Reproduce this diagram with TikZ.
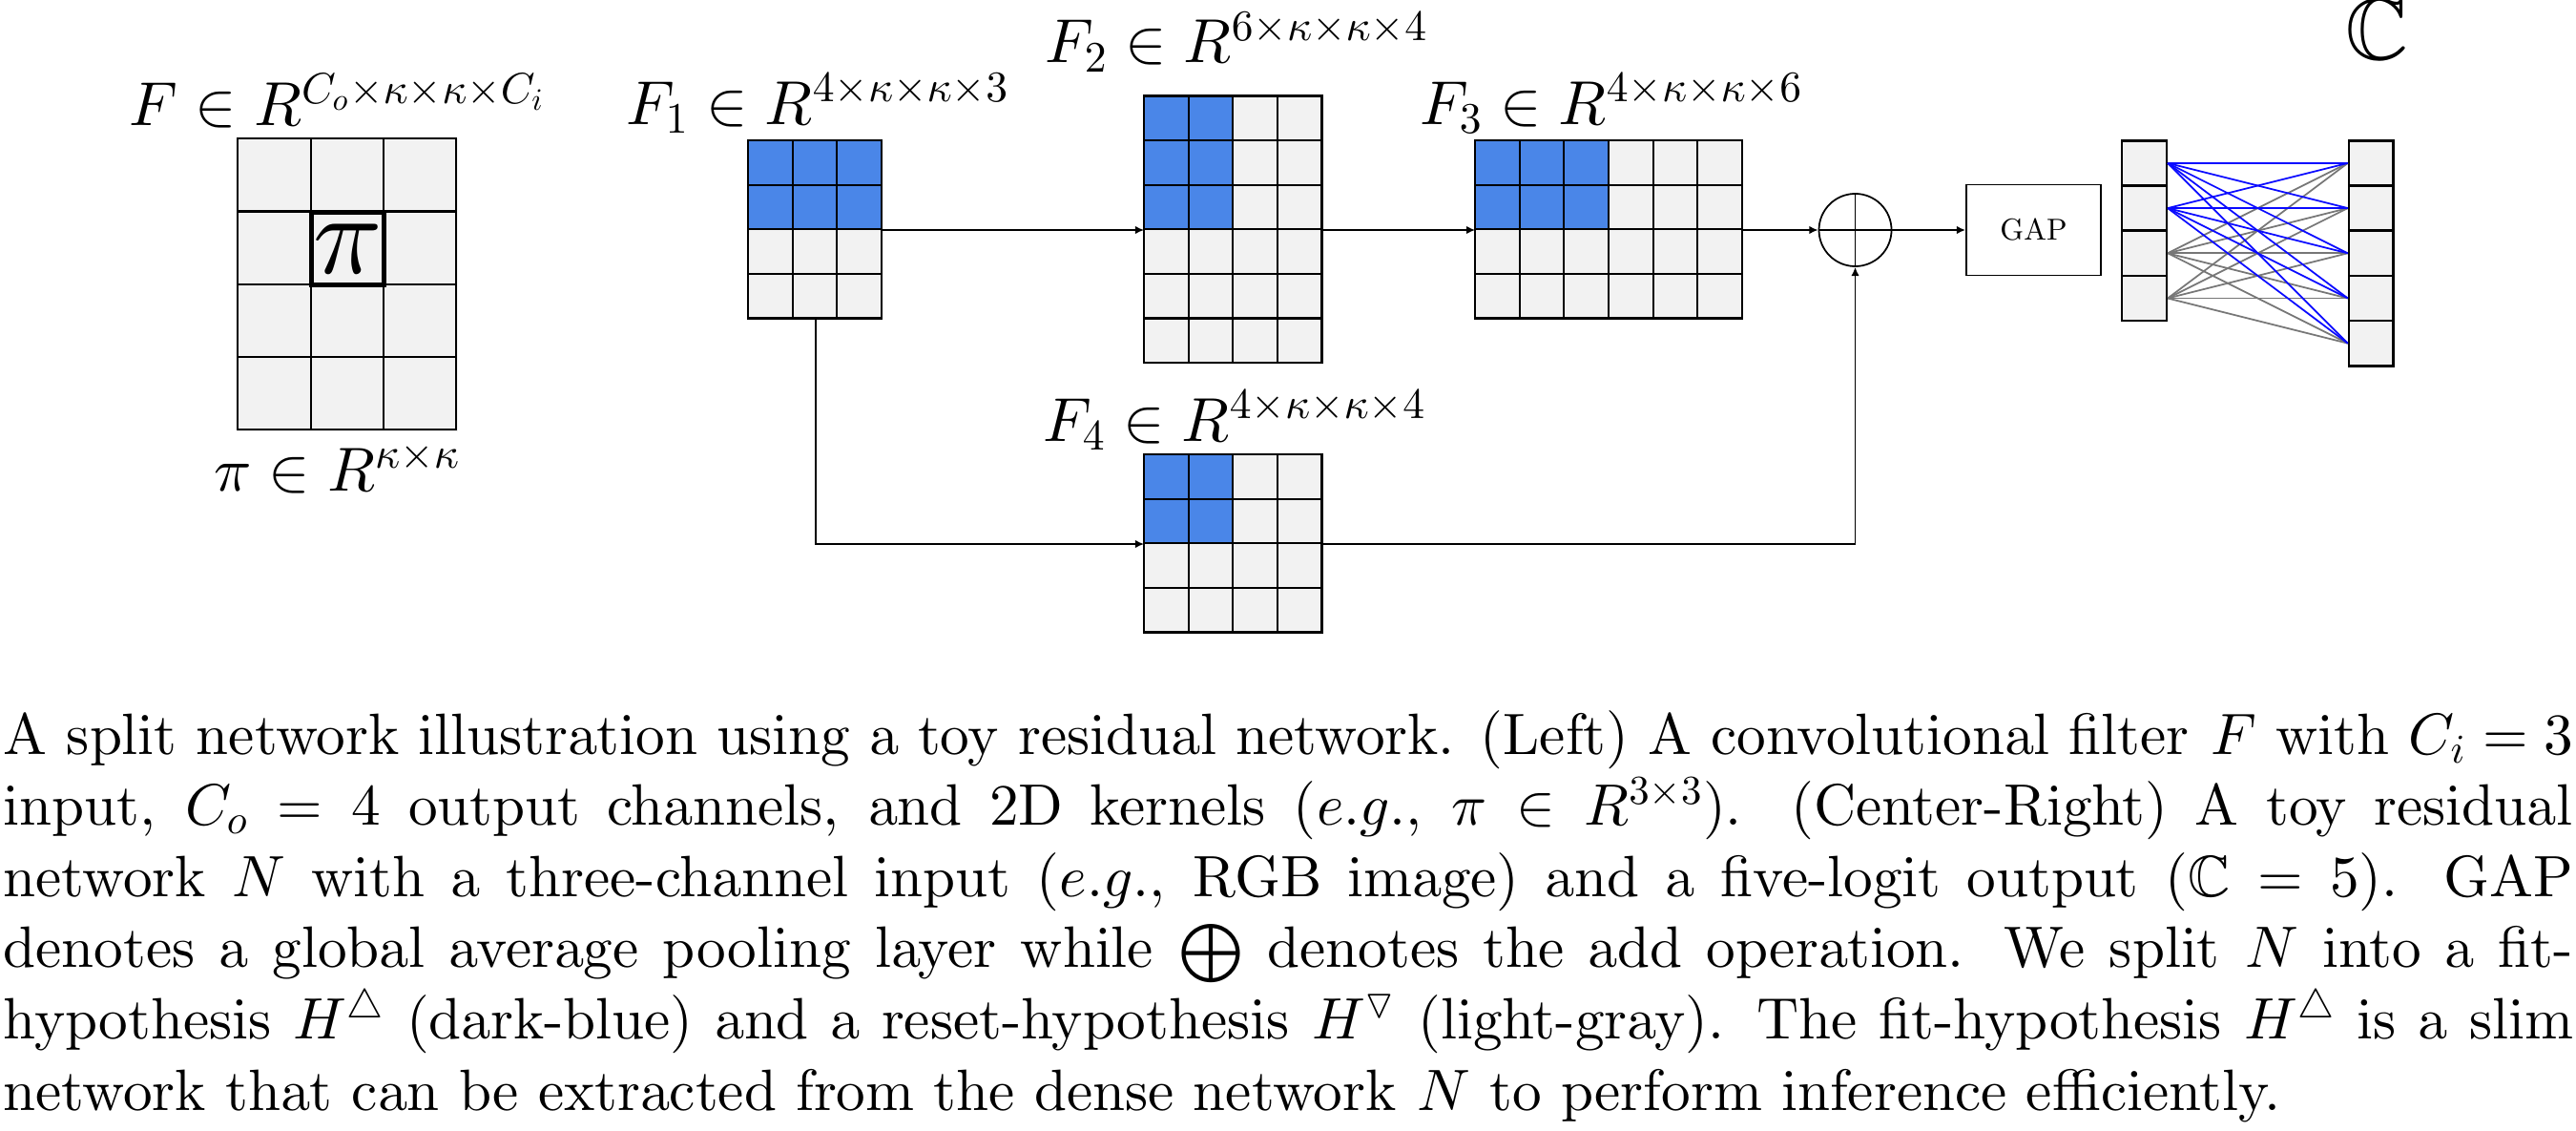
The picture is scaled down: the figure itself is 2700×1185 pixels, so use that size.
\documentclass[tikz,border=0pt]{standalone}
\usepackage{fix-cm}
\usepackage[OT1]{fontenc}
\usepackage{amssymb}
\DeclareFontFamily{U}{msb}{}
\DeclareFontShape{U}{msb}{m}{n}{<->msbm10}{}
\DeclareFontFamily{U}{msa}{}
\DeclareFontShape{U}{msa}{m}{n}{<->msam10}{}
\DeclareFontFamily{OT1}{mycmr}{\hyphenchar\font45 }
\DeclareFontShape{OT1}{mycmr}{m}{n}{<->cmr10}{}
\DeclareFontShape{OT1}{mycmr}{m}{it}{<->cmti10}{}
\DeclareFontShape{OT1}{mycmr}{bx}{n}{<->cmbx10}{}
\DeclareFontShape{OT1}{mycmr}{b}{n}{<->cmbx10}{}
\DeclareFontFamily{OML}{mycmm}{\skewchar\font127 }
\DeclareFontShape{OML}{mycmm}{m}{it}{<->cmmi10}{}
\DeclareSymbolFont{letters}{OML}{mycmm}{m}{it}
\DeclareSymbolFont{operators}{OT1}{mycmr}{m}{n}
\renewcommand\rmdefault{mycmr}
\usetikzlibrary{calc,arrows.meta}
\definecolor{cellgray}{HTML}{F2F2F2}
\definecolor{cellblue}{HTML}{4A86E8}
\definecolor{fcblue}{HTML}{0A0AFF}
\definecolor{fcgray}{HTML}{777777}
\tikzset{
  gridline/.style={line width=0.6pt, line cap=rect},
  arr/.style={line width=0.5pt, -{Latex[length=2.6pt,width=2.4pt]}},
  lbl/.style={anchor=base, inner sep=0, font=\normalfont\fontsize{18.5}{22}\selectfont},
  fccell/.style={draw, line width=0.7pt, fill=cellgray, minimum width=0.466cm, minimum height=0.472cm, inner sep=0},
  fcb/.style={fcblue, line width=0.5pt},
  fcg/.style={fcgray, line width=0.5pt},
}
% #1 name #2 cx #3 cy #4 cols #5 rows #6 blue cols #7 blue rows #8 cell size
\newcommand\mygrid[8]{%
  \node[inner sep=0, minimum width=#4*#8*0.01cm, minimum height=#5*#8*0.01cm] (#1) at (#2,#3) {};
  \fill[cellgray] (#1.north west) rectangle (#1.south east);
  \fill[cellblue] (#1.north west) rectangle ++(#6*#8,#7*#8);
  \foreach \k in {0,...,#4}{\draw[gridline] ($(#1.north west)+(\k*#8,0)$) -- ++(0,#5*#8);}
  \foreach \k in {0,...,#5}{\draw[gridline] ($(#1.north west)+(0,\k*#8)$) -- ++(#4*#8,0);}
}
\begin{document}
\begin{tikzpicture}[x=0.01cm,y=-0.01cm]
\useasboundingbox (0,0) rectangle (2700,1185);

% left filter
\mygrid{Fk}{364.5}{298.5}{3}{4}{0}{0}{76.3}
\node[draw, line width=1.6pt, minimum size=0.763cm, inner sep=0] (pibox) at (364.5,260.5) {\fontsize{34}{34}\selectfont$\pi$};
\node[lbl] (lF) at (354,132) {$F \in R^{C_o\times\kappa\times\kappa\times C_i}$};
\node[lbl] (lpi) at (353.5,514) {$\pi \in R^{\kappa\times\kappa}$};

% network filters
\mygrid{F1}{854.7}{241}{3}{4}{3}{2}{46.6}
\mygrid{F2}{1293}{241}{4}{6}{2}{3}{46.6}
\mygrid{F3}{1686.7}{241}{6}{4}{3}{2}{46.6}
\mygrid{F4}{1293}{570}{4}{4}{2}{2}{46.6}
\node[lbl] (lF1) at (857,130) {$F_1 \in R^{4\times\kappa\times\kappa\times 3}$};
\node[lbl] (lF2) at (1296,66) {$F_2 \in R^{6\times\kappa\times\kappa\times 4}$};
\node[lbl] (lF3) at (1689,130) {$F_3 \in R^{4\times\kappa\times\kappa\times 6}$};
\node[lbl] (lF4) at (1294,462) {$F_4 \in R^{4\times\kappa\times\kappa\times 4}$};

% add and GAP
\node[draw, circle, minimum size=0.76cm, inner sep=0, line width=0.5pt] (plus) at (1944.5,241) {};
\draw[line width=0.5pt] (plus.north) -- (plus.south) (plus.west) -- (plus.east);
\node[draw, line width=0.5pt, minimum width=1.41cm, minimum height=0.95cm, inner sep=0, font=\normalfont\fontsize{9}{9}\selectfont] (gap) at (2131.5,241) {GAP};

% fully connected
\foreach \i in {1,...,4} \node[fccell] (l\i) at (2247.5,{170.9+47.2*(\i-1)}) {};
\foreach \j in {1,...,5} \node[fccell] (r\j) at (2485.3,{170.9+47.2*(\j-1)}) {};
\foreach \i in {3,4} \foreach \j in {1,...,5} \draw[fcg] (l\i.east) -- (r\j.west);
\foreach \i in {1,2} \foreach \j in {1,...,5} \draw[fcb] (l\i.east) -- (r\j.west);
\node[anchor=base, inner sep=0, font=\normalfont\fontsize{26}{26}\selectfont] (cc) at (2491,63) {$\mathbb{C}$};

% connectors
\draw[arr] (F1.east) -- (F2.west);
\draw[arr] (F2.east) -- (F3.west);
\draw[arr] (F3.east) -- (plus.west);
\draw[arr] (plus.east) -- (gap.west);
\draw[arr] (F1.south) |- (F4.west);
\draw[arr] (F4.east) -| (plus.south);

% caption
\node[anchor=north west, inner sep=0, text width=26.92cm, align=justify, font=\normalfont\fontsize{17.4}{21.23}\selectfont] (cap) at (3,743.4) {\noindent A split network illustration using a toy residual network. (Left) A convolutional filter $F$ with $C_i = 3$\linebreak
input, $C_o = 4$ output channels, and 2D kernels ($e.g.$, $\pi \in R^{3\times 3}$). (Center-Right) A toy residual\linebreak
network $N$ with a three-channel input ($e.g.$, RGB image) and a five-logit output ($\mathbb{C} = 5$). GAP\linebreak
denotes a global average pooling layer while $\bigoplus$ denotes the add operation. We split $N$ into a fit-\linebreak
hypothesis $H^\triangle$ (dark-blue) and a reset-hypothesis $H^\triangledown$ (light-gray). The fit-hypothesis $H^\triangle$ is a slim\linebreak
network that can be extracted from the dense network $N$ to perform inference efficiently.};
\end{tikzpicture}
\end{document}
